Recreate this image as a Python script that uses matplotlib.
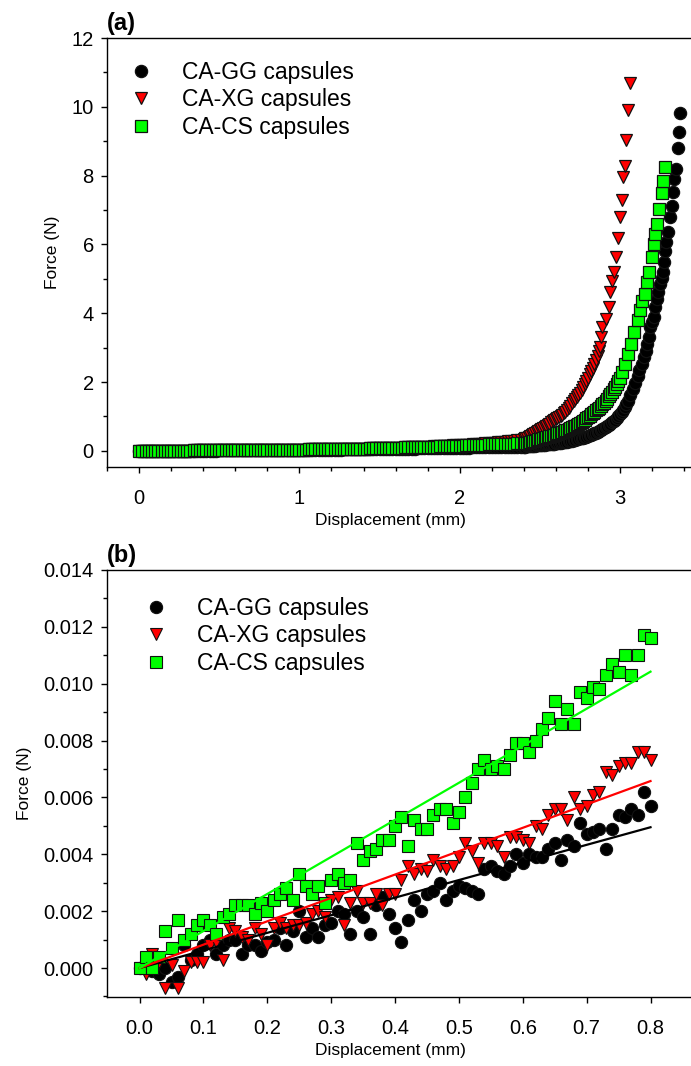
import numpy as np
import matplotlib
matplotlib.use("Agg")
import matplotlib.pyplot as plt
from matplotlib.ticker import MultipleLocator, FormatStrFormatter

plt.rcParams['font.family'] = ['Liberation Sans', 'DejaVu Sans']

labels = ["CA-GG capsules", "CA-XG capsules", "CA-CS capsules"]

# ---- (a) full compression curves ----
# low-force part, read every 0.02 mm from 0 to 2.38 mm
flat_disp = np.round(np.arange(0, 2.39, 0.02), 2)
gg_flat = [0.00, 0.00, 0.00, 0.00, 0.00, 0.00, 0.00, 0.01, 0.01, 0.01,
           0.01, 0.01, 0.01, 0.01, 0.01, 0.01, 0.01, 0.01, 0.01, 0.01,
           0.01, 0.01, 0.01, 0.01, 0.01, 0.02, 0.02, 0.02, 0.02, 0.02,
           0.02, 0.02, 0.02, 0.02, 0.02, 0.02, 0.02, 0.02, 0.02, 0.02,
           0.02, 0.02, 0.02, 0.02, 0.02, 0.03, 0.03, 0.03, 0.03, 0.03,
           0.03, 0.03, 0.03, 0.03, 0.03, 0.03, 0.03, 0.03, 0.03, 0.03,
           0.03, 0.03, 0.03, 0.03, 0.04, 0.04, 0.04, 0.04, 0.04, 0.04,
           0.04, 0.04, 0.04, 0.05, 0.05, 0.05, 0.05, 0.05, 0.05, 0.05,
           0.05, 0.06, 0.06, 0.06, 0.06, 0.06, 0.06, 0.07, 0.07, 0.07,
           0.07, 0.07, 0.07, 0.08, 0.08, 0.08, 0.08, 0.08, 0.09, 0.09,
           0.09, 0.09, 0.09, 0.09, 0.10, 0.10, 0.10, 0.10, 0.10, 0.11,
           0.11, 0.11, 0.11, 0.11, 0.11, 0.12, 0.12, 0.12, 0.12, 0.12]
xg_flat = [0.00, 0.00, 0.00, 0.01, 0.01, 0.01, 0.01, 0.01, 0.01, 0.01,
           0.01, 0.01, 0.01, 0.01, 0.01, 0.01, 0.01, 0.02, 0.02, 0.02,
           0.02, 0.02, 0.02, 0.02, 0.02, 0.02, 0.02, 0.02, 0.02, 0.02,
           0.02, 0.02, 0.02, 0.02, 0.02, 0.03, 0.03, 0.03, 0.03, 0.03,
           0.03, 0.03, 0.03, 0.03, 0.03, 0.03, 0.03, 0.03, 0.03, 0.03,
           0.03, 0.03, 0.03, 0.04, 0.04, 0.04, 0.04, 0.04, 0.04, 0.04,
           0.04, 0.05, 0.05, 0.05, 0.05, 0.05, 0.05, 0.06, 0.06, 0.06,
           0.06, 0.06, 0.07, 0.07, 0.07, 0.07, 0.08, 0.08, 0.08, 0.08,
           0.09, 0.09, 0.09, 0.10, 0.10, 0.10, 0.11, 0.11, 0.11, 0.12,
           0.12, 0.12, 0.13, 0.13, 0.14, 0.14, 0.15, 0.15, 0.16, 0.16,
           0.17, 0.17, 0.18, 0.18, 0.19, 0.20, 0.20, 0.21, 0.22, 0.23,
           0.23, 0.24, 0.25, 0.26, 0.27, 0.28, 0.29, 0.30, 0.31, 0.32]
cs_flat = [0.00, 0.00, 0.00, 0.01, 0.01, 0.01, 0.01, 0.01, 0.01, 0.01,
           0.01, 0.01, 0.01, 0.01, 0.01, 0.01, 0.01, 0.02, 0.02, 0.02,
           0.02, 0.02, 0.02, 0.02, 0.02, 0.02, 0.02, 0.02, 0.02, 0.02,
           0.02, 0.02, 0.02, 0.02, 0.02, 0.03, 0.03, 0.03, 0.03, 0.03,
           0.03, 0.03, 0.03, 0.03, 0.03, 0.03, 0.03, 0.03, 0.03, 0.03,
           0.03, 0.03, 0.03, 0.04, 0.04, 0.04, 0.04, 0.04, 0.04, 0.04,
           0.04, 0.05, 0.05, 0.05, 0.05, 0.05, 0.05, 0.06, 0.06, 0.06,
           0.06, 0.06, 0.07, 0.07, 0.07, 0.07, 0.08, 0.08, 0.08, 0.08,
           0.09, 0.09, 0.09, 0.10, 0.10, 0.10, 0.11, 0.11, 0.11, 0.11,
           0.11, 0.12, 0.12, 0.12, 0.13, 0.13, 0.13, 0.14, 0.14, 0.15,
           0.15, 0.15, 0.16, 0.16, 0.17, 0.17, 0.17, 0.18, 0.18, 0.19,
           0.19, 0.19, 0.20, 0.20, 0.20, 0.21, 0.21, 0.21, 0.22, 0.22]

# rising part, every 0.01 mm from 2.40 mm
gg_rise = [0.12, 0.12, 0.13, 0.13, 0.14, 0.14, 0.15, 0.15, 0.16, 0.16,
           0.17, 0.17, 0.18, 0.18, 0.19, 0.19, 0.20, 0.20, 0.21, 0.21,
           0.22, 0.23, 0.23, 0.24, 0.25, 0.26, 0.26, 0.27, 0.28, 0.29,
           0.30, 0.31, 0.32, 0.33, 0.34, 0.36, 0.37, 0.38, 0.40, 0.41,
           0.43, 0.45, 0.47, 0.49, 0.51, 0.53, 0.55, 0.58, 0.60, 0.63,
           0.66, 0.69, 0.72, 0.75, 0.79, 0.83, 0.87, 0.91, 0.96, 1.01,
           1.07, 1.13, 1.20, 1.28, 1.36, 1.45]
xg_rise = [0.34, 0.36, 0.38, 0.41, 0.43, 0.46, 0.49, 0.52, 0.55, 0.58,
           0.61, 0.64, 0.67, 0.70, 0.73, 0.76, 0.79, 0.83, 0.86, 0.89,
           0.92, 0.95, 0.98, 1.01, 1.05, 1.09, 1.13, 1.18, 1.24, 1.31,
           1.38, 1.44, 1.50, 1.56, 1.62, 1.69, 1.77, 1.86, 1.95, 2.04,
           2.12, 2.22, 2.33, 2.42, 2.52, 2.63, 2.75, 2.90]
cs_rise = [0.22, 0.23, 0.24, 0.25, 0.26, 0.28, 0.29, 0.30, 0.31, 0.33,
           0.34, 0.35, 0.37, 0.38, 0.40, 0.41, 0.43, 0.44, 0.46, 0.47,
           0.49, 0.51, 0.52, 0.54, 0.56, 0.58, 0.60, 0.62, 0.64, 0.66,
           0.68, 0.71, 0.73, 0.76, 0.79, 0.82, 0.85, 0.88, 0.91, 0.95,
           0.98, 1.02, 1.06, 1.10, 1.14, 1.18, 1.22, 1.26, 1.31, 1.35,
           1.40, 1.46, 1.52, 1.58, 1.65, 1.72, 1.79, 1.86, 1.94, 2.02,
           2.12]

# last points before rupture
gg_peak_disp = [3.065, 3.08, 3.095, 3.11, 3.12, 3.135, 3.15, 3.16, 3.17, 3.18,
                3.19, 3.20, 3.21, 3.22, 3.23, 3.24, 3.25, 3.26, 3.267, 3.273,
                3.28, 3.29, 3.30, 3.31, 3.327, 3.333, 3.34, 3.35, 3.36, 3.37, 3.375]
gg_peak = [1.62, 1.79, 1.98, 2.18, 2.35, 2.52, 2.72, 2.91, 3.10, 3.30,
           3.59, 3.74, 3.88, 4.17, 4.41, 4.62, 4.85, 5.02, 5.19, 5.48,
           5.82, 6.07, 6.36, 6.79, 7.13, 7.53, 7.91, 8.20, 8.80, 9.27, 9.82]
xg_peak_disp = [2.875, 2.88, 2.89, 2.91, 2.93, 2.94, 2.95, 2.96, 2.975, 2.99,
                3.00, 3.01, 3.02, 3.03, 3.04, 3.05, 3.063]
xg_peak = [3.01, 3.30, 3.59, 3.83, 4.17, 4.61, 4.95, 5.19, 5.63, 6.18,
           6.79, 7.28, 7.96, 8.27, 9.04, 9.90, 10.68]
cs_peak_disp = [3.01, 3.03, 3.05, 3.07, 3.09, 3.11, 3.125, 3.14, 3.156, 3.17,
                3.18, 3.20, 3.21, 3.22, 3.233, 3.246, 3.26, 3.27, 3.28]
cs_peak = [2.28, 2.52, 2.82, 3.11, 3.45, 3.79, 4.08, 4.37, 4.56, 4.90,
           5.19, 5.63, 6.02, 6.31, 6.60, 7.04, 7.49, 7.84, 8.25]

# ---- (b) initial linear region ----
disp_b = np.round(np.arange(0, 0.801, 0.01), 2)
gg_b = [0.0000, 0.0001, -0.0001, -0.0002, 0.0000, -0.0005, -0.0003, 0.0008, 0.0003, 0.0005,
        0.0008, 0.0010, 0.0005, 0.0008, 0.0010, 0.0010, 0.0005, 0.0008, 0.0008, 0.0006,
        0.0009, 0.0010, 0.0014, 0.0008, 0.0013, 0.0020, 0.0011, 0.0014, 0.0011, 0.0015,
        0.0016, 0.0020, 0.0019, 0.0012, 0.0020, 0.0018, 0.0012, 0.0022, 0.0025, 0.0019,
        0.0014, 0.0009, 0.0017, 0.0024, 0.0020, 0.0026, 0.0027, 0.0030, 0.0024, 0.0027,
        0.0029, 0.0028, 0.0027, 0.0026, 0.0035, 0.0036, 0.0034, 0.0033, 0.0036, 0.0040,
        0.0037, 0.0040, 0.0039, 0.0039, 0.0042, 0.0044, 0.0038, 0.0045, 0.0043, 0.0051,
        0.0047, 0.0048, 0.0049, 0.0042, 0.0049, 0.0054, 0.0053, 0.0056, 0.0054, 0.0062,
        0.0057]
xg_b = [0.0000, -0.0002, 0.0005, 0.0002, -0.0007, 0.0001, -0.0007, -0.0001, 0.0002, 0.0002,
        0.0002, 0.0008, 0.0009, 0.0003, 0.0014, 0.0013, 0.0011, 0.0010, 0.0014, 0.0012,
        0.0008, 0.0014, 0.0016, 0.0014, 0.0015, 0.0015, 0.0016, 0.0019, 0.0020, 0.0018,
        0.0024, 0.0025, 0.0015, 0.0023, 0.0027, 0.0023, 0.0023, 0.0026, 0.0022, 0.0026,
        0.0026, 0.0031, 0.0036, 0.0033, 0.0035, 0.0034, 0.0038, 0.0036, 0.0035, 0.0036,
        0.0039, 0.0044, 0.0041, 0.0037, 0.0044, 0.0044, 0.0043, 0.0039, 0.0046, 0.0046,
        0.0045, 0.0044, 0.0050, 0.0049, 0.0054, 0.0056, 0.0056, 0.0052, 0.0060, 0.0056,
        0.0057, 0.0061, 0.0062, 0.0069, 0.0068, 0.0071, 0.0072, 0.0072, 0.0076, 0.0076,
        0.0073]
cs_b = [0.0000, 0.0004, 0.0000, 0.0004, 0.0013, 0.0007, 0.0017, 0.0010, 0.0012, 0.0015,
        0.0017, 0.0015, 0.0012, 0.0018, 0.0019, 0.0022, 0.0022, 0.0022, 0.0019, 0.0023,
        0.0020, 0.0024, 0.0026, 0.0028, 0.0024, 0.0033, 0.0029, 0.0026, 0.0029, 0.0023,
        0.0031, 0.0033, 0.0030, 0.0031, 0.0044, 0.0038, 0.0041, 0.0042, 0.0045, 0.0045,
        0.0050, 0.0053, 0.0043, 0.0052, 0.0049, 0.0049, 0.0054, 0.0056, 0.0056, 0.0051,
        0.0055, 0.0060, 0.0065, 0.0070, 0.0073, 0.0070, 0.0071, 0.0070, 0.0075, 0.0079,
        0.0079, 0.0076, 0.0080, 0.0084, 0.0088, 0.0094, 0.0086, 0.0091, 0.0086, 0.0097,
        0.0095, 0.0099, 0.0098, 0.0103, 0.0107, 0.0104, 0.0110, 0.0103, 0.0110, 0.0117,
        0.0116]
# slopes of the straight fits (N/mm), lines through the origin
fit_slopes = [0.00619, 0.00822, 0.01303]
fit_range = [0.0, 0.8]

colors = ['black', '#ff0000', '#00ff00']
markers = ['o', 'v', 's']
msizes = [8.8, 8.6, 8.0]


def build(flat, rise, peak_d, peak_f):
    rise_d = np.round(2.40 + 0.01 * np.arange(len(rise)), 2)
    d = np.concatenate([flat_disp, rise_d, peak_d])
    f = np.concatenate([flat, rise, peak_f])
    return d, f


series_a = [build(gg_flat, gg_rise, gg_peak_disp, gg_peak),
            build(xg_flat, xg_rise, xg_peak_disp, xg_peak),
            build(cs_flat, cs_rise, cs_peak_disp, cs_peak)]
series_b = [gg_b, xg_b, cs_b]

fig = plt.figure(figsize=(6.91, 10.66), dpi=100)
ax1 = fig.add_axes([0.1549, 0.5619, 0.8451, 0.4024])
ax2 = fig.add_axes([0.1549, 0.0647, 0.8451, 0.4006])

for (d, f), c, m, ms, lab in zip(series_a, colors, markers, msizes, labels):
    ax1.plot(d, f, linestyle='none', marker=m, ms=ms, mfc=c,
             mec='#111111', mew=0.9, label=lab)

for vals, c, m, ms, lab in zip(series_b, colors, markers, msizes, labels):
    ax2.plot(disp_b, vals, linestyle='none', marker=m, ms=ms, mfc=c,
             mec='#111111', mew=0.8, label=lab)
for k, c in zip(fit_slopes, colors):
    xs = np.array(fit_range)
    ax2.plot(xs, k * xs, color=c, lw=1.6, zorder=5)

ax1.set_xlim(-0.2, 3.443)
ax1.set_ylim(-0.47, 12)
ax1.xaxis.set_major_locator(MultipleLocator(1))
ax1.xaxis.set_minor_locator(MultipleLocator(0.2))
ax1.yaxis.set_major_locator(MultipleLocator(2))
ax1.yaxis.set_minor_locator(MultipleLocator(1))

ax2.set_xlim(-0.051, 0.8634)
ax2.set_ylim(-0.00102, 0.014)
ax2.xaxis.set_major_locator(MultipleLocator(0.1))
ax2.yaxis.set_major_locator(MultipleLocator(0.002))
ax2.yaxis.set_minor_locator(MultipleLocator(0.001))
ax2.xaxis.set_major_formatter(FormatStrFormatter('%.1f'))
ax2.yaxis.set_major_formatter(FormatStrFormatter('%.3f'))

for ax, tag, leg_x, leg_y in [(ax1, '(a)', 0.0377, 0.947),
                              (ax2, '(b)', 0.0634, 0.937)]:
    ax.spines['right'].set_visible(False)
    for s in ['left', 'bottom', 'top']:
        ax.spines[s].set_linewidth(1.0)
    ax.tick_params(which='major', direction='out', length=4.5, width=1.0,
                   labelsize=14.5)
    ax.tick_params(which='minor', direction='out', length=3.2, width=1.0)
    ax.tick_params(axis='x', which='major', pad=11)
    ax.tick_params(axis='y', which='major', pad=5)
    ax.tick_params(top=False, right=False, which='both')
    ax.set_xlabel('Displacement (mm)', fontsize=12.5, labelpad=4)
    ax.xaxis.label.set_x(0.486)
    ax.set_ylabel('Force (N)', fontsize=12.5, labelpad=8)
    ax.text(0.0, 1.008, tag, transform=ax.transAxes, fontsize=17,
            fontweight='bold', ha='left', va='bottom')
    ax.legend(loc='upper left', bbox_to_anchor=(leg_x, leg_y), frameon=False,
              fontsize=16.5, borderaxespad=0, borderpad=0, handlelength=1.0,
              handletextpad=1.3, labelspacing=0.2, numpoints=1)

fig.savefig('out.png', dpi=100)
